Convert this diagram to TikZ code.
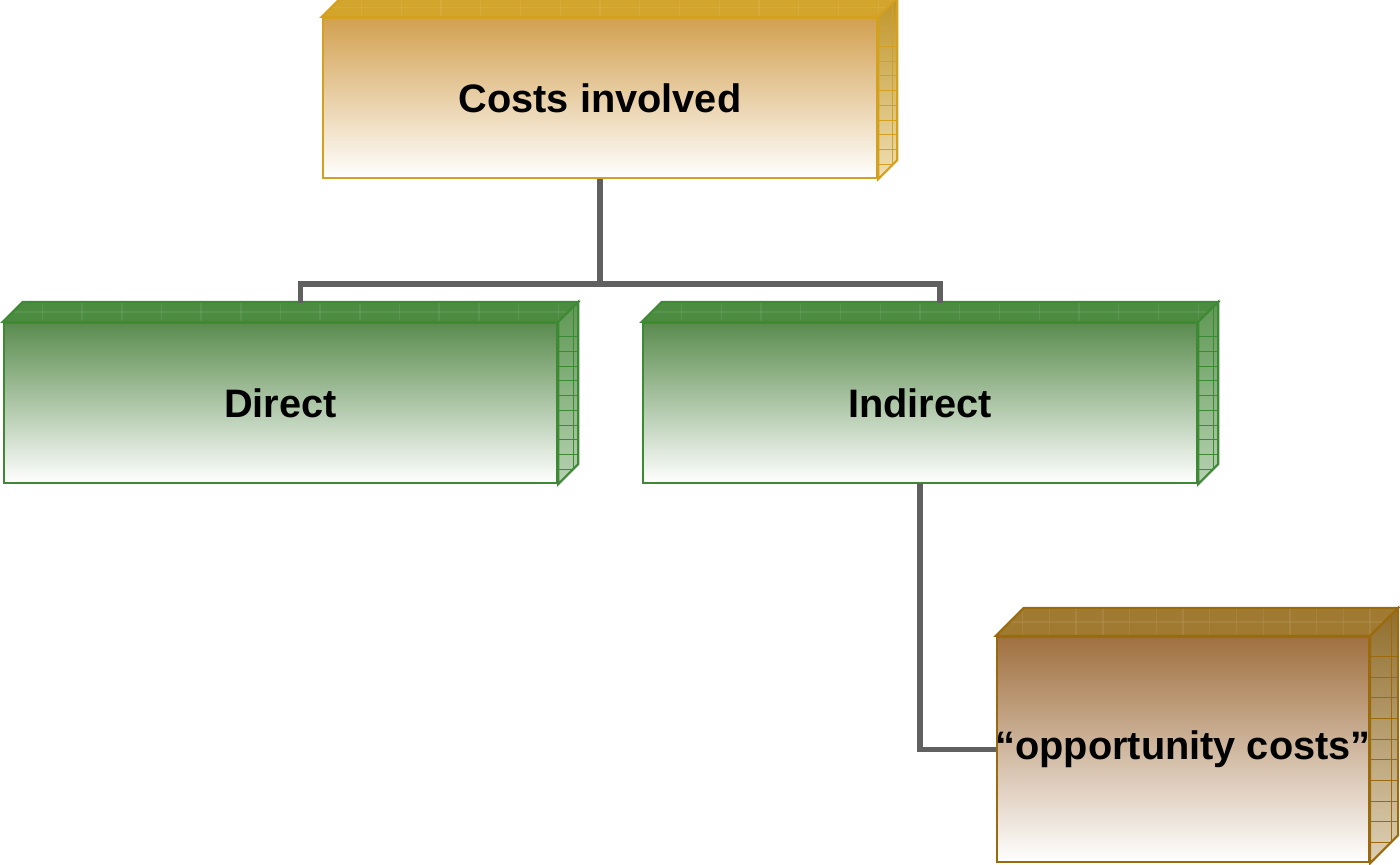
\documentclass[tikz,border=0pt]{standalone}
\usepackage{fontspec}
\setmainfont{Liberation Sans}
\usetikzlibrary{calc}

\definecolor{goldedge}{HTML}{D4A020}
\definecolor{goldtop}{HTML}{D2A050}
\definecolor{goldlid}{HTML}{D4A52C}
\definecolor{greenedge}{HTML}{3E8A34}
\definecolor{greentop}{HTML}{5A8C4E}
\definecolor{greenlid}{HTML}{4C8C40}
\definecolor{brownedge}{HTML}{9A6A0C}
\definecolor{browntop}{HTML}{A07040}
\definecolor{brownlid}{HTML}{A07A30}
\definecolor{linkgray}{HTML}{606060}

\begin{document}
\begin{tikzpicture}
[x = 0.01cm, y = -0.01cm,
 box/.style = {draw, line width = 0.6pt, inner sep = 0pt,
               font = \bfseries\fontsize{11.3}{13}\selectfont},
 goldbox/.style = {box, draw = goldedge, top color = goldtop, middle color = goldtop!35!white, bottom color = white},
 greenbox/.style = {box, draw = greenedge, top color = greentop, middle color = greentop!40!white, bottom color = white},
 brownbox/.style = {box, draw = brownedge, top color = browntop, middle color = browntop!45!white, bottom color = white},
 link/.style = {draw = linkgray, line width = 1.5pt}
 ]
\useasboundingbox (0,0) rectangle (1400,865);

% front faces
\node [goldbox, minimum width = 5.54cm, minimum height = 1.6cm] (costs) at (600,98) {Costs involved};
\node [greenbox, minimum width = 5.53cm, minimum height = 1.6cm] (direct) at (280.5,403) {Direct};
\node [greenbox, minimum width = 5.54cm, minimum height = 1.6cm] (indirect) at (920,403) {Indirect};
\node [brownbox, minimum width = 3.72cm, minimum height = 2.25cm] (opportunity) at (1183,749.5) {\makebox[0pt]{``opportunity costs''}};

% lids and sides: node/depth/edge/lid/side-top/side-bottom
\foreach \n/\d/\e/\l/\st/\sb in {costs/19/goldedge/goldlid/goldlid!90!black/goldlid!35,
                                  direct/20/greenedge/greenlid/greenlid!90/greenlid!40,
                                  indirect/20/greenedge/greenlid/greenlid!90/greenlid!40,
                                  opportunity/28/brownedge/brownlid/brownlid!90!black/brownlid!35}
{
  % lid with faint vertical ribs
  \fill [\l] (\n.north west) -- ++(\d,-\d) -- ($(\n.north east)+(\d,-\d)$) -- (\n.north east) -- cycle;
  \begin{scope}
    \clip (\n.north west) -- ++(\d,-\d) -- ($(\n.north east)+(\d,-\d)$) -- (\n.north east) -- cycle;
    \foreach \k in {1,...,14}
      \draw [white, opacity = 0.07, line width = 0.4pt]
        ($(\n.north west)!\k/14!(\n.north east)$) -- ++(0,-\d);
    \draw [white, opacity = 0.07, line width = 0.4pt]
      ($(\n.north west)+(0,-0.5*\d)$) -- ($(\n.north east)+(\d,-0.5*\d)$);
  \end{scope}
  \draw [draw = \e, line width = 0.6pt]
    (\n.north west) -- ++(\d,-\d) -- ($(\n.north east)+(\d,-\d)$) -- (\n.north east) -- cycle;
  % side with a grid
  \shade [top color = \st, bottom color = \sb]
    (\n.north east) -- ++(\d,-\d) -- ($(\n.south east)+(\d,-\d)$) -- (\n.south east) -- cycle;
  \begin{scope}
    \clip (\n.north east) -- ++(\d,-\d) -- ($(\n.south east)+(\d,-\d)$) -- (\n.south east) -- cycle;
    \foreach \k in {1,...,11}
      \draw [\e, line width = 0.3pt] ($(\n.north east)!\k/11!(\n.south east)$) -- ++(\d,0);
    \draw [\e, line width = 0.3pt] ($(\n.north east)+(0.75*\d,-\d)$) -- ($(\n.south east)+(0.75*\d,0)$);
  \end{scope}
  \draw [draw = \e, line width = 0.6pt]
    (\n.north east) -- ++(\d,-\d) -- ($(\n.south east)+(\d,-\d)$) -- (\n.south east) -- cycle;
}

% connectors
\coordinate (dtop) at ($(direct.north)+(20,-19)$);
\coordinate (itop) at ($(indirect.north)+(20,-19)$);
\draw [link] (costs.south) -- ++(0,105) coordinate (fork);
\draw [link] (dtop) |- (fork) -| (itop);
\draw [link] (indirect.south) |- (opportunity.west);
\end{tikzpicture}
\end{document}
